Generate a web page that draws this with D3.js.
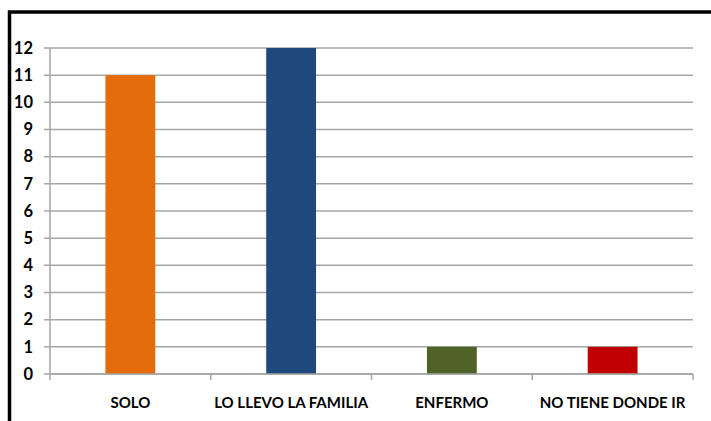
<!DOCTYPE html>
<html>
<head>
<meta charset="utf-8">
<script src="https://cdn.jsdelivr.net/npm/d3@7"></script>
<style>
  body { margin: 0; background: #fff; }
  text { font-family: Lato, "Open Sans", sans-serif; font-weight: bold; fill: #000; }
</style>
</head>
<body>
<svg width="711" height="421"></svg>
<script>
var categories = ["SOLO", "LO LLEVO LA FAMILIA", "ENFERMO", "NO TIENE DONDE IR"],
    values = [11, 12, 1, 1],
    colors = ["#E46C0A", "#1F497D", "#4F6228", "#C00000"],
    yTicks = d3.range(0, 13);

var svg = d3.select("svg"),
    margin = {top: 48, right: 18, bottom: 47, left: 50},
    width = +svg.attr("width") - margin.left - margin.right,
    height = +svg.attr("height") - margin.top - margin.bottom;

// frame
svg.append("path")
    .attr("d", "M9.5,421 V12 H711")
    .attr("fill", "none")
    .attr("stroke", "#000")
    .attr("stroke-width", 3.5);

var g = svg.append("g").attr("transform", "translate(" + margin.left + "," + margin.top + ")");

var x = d3.scaleBand()
    .domain(categories)
    .range([0, width])
    .paddingInner(0.69)
    .paddingOuter(0.345);

var y = d3.scaleLinear()
    .domain([0, 12])
    .range([height, 0]);

// grid lines
g.append("g")
  .selectAll("line")
  .data(yTicks)
  .enter().append("line")
    .attr("x1", -6)
    .attr("x2", width)
    .attr("y1", function(d) { return y(d); })
    .attr("y2", function(d) { return y(d); })
    .attr("stroke", "#A6A6A6")
    .attr("stroke-width", 1.5);

// bars
g.selectAll(".bar")
  .data(values)
  .enter().append("rect")
    .attr("class", "bar")
    .attr("x", function(d, i) { return x(categories[i]); })
    .attr("y", function(d) { return y(d); })
    .attr("width", x.bandwidth())
    .attr("height", function(d) { return height - y(d); })
    .attr("fill", function(d, i) { return colors[i]; });

// y axis
var yAxis = g.append("g")
    .call(d3.axisLeft(y).tickValues(yTicks).tickSize(6).tickPadding(11).tickFormat(d3.format("d")));
yAxis.select(".domain").remove();
yAxis.selectAll("line").remove();
yAxis.selectAll("text").style("font-size", "16.5px");

g.append("line")
    .attr("x1", 0).attr("x2", 0)
    .attr("y1", 0).attr("y2", height)
    .attr("stroke", "#A6A6A6")
    .attr("stroke-width", 1.5);

// x axis
var step = width / categories.length;
g.append("line")
    .attr("x1", 0).attr("x2", width)
    .attr("y1", height).attr("y2", height)
    .attr("stroke", "#A6A6A6")
    .attr("stroke-width", 1.5);

g.append("g")
  .selectAll("line")
  .data(d3.range(0, categories.length + 1))
  .enter().append("line")
    .attr("x1", function(d) { return d * step; })
    .attr("x2", function(d) { return d * step; })
    .attr("y1", height)
    .attr("y2", height + 6)
    .attr("stroke", "#A6A6A6")
    .attr("stroke-width", 1.5);

g.append("g")
  .selectAll("text")
  .data(categories)
  .enter().append("text")
    .attr("x", function(d) { return x(d) + x.bandwidth() / 2; })
    .attr("y", height + 34)
    .attr("text-anchor", "middle")
    .style("font-size", "15px")
    .text(function(d) { return d; });
</script>
</body>
</html>
